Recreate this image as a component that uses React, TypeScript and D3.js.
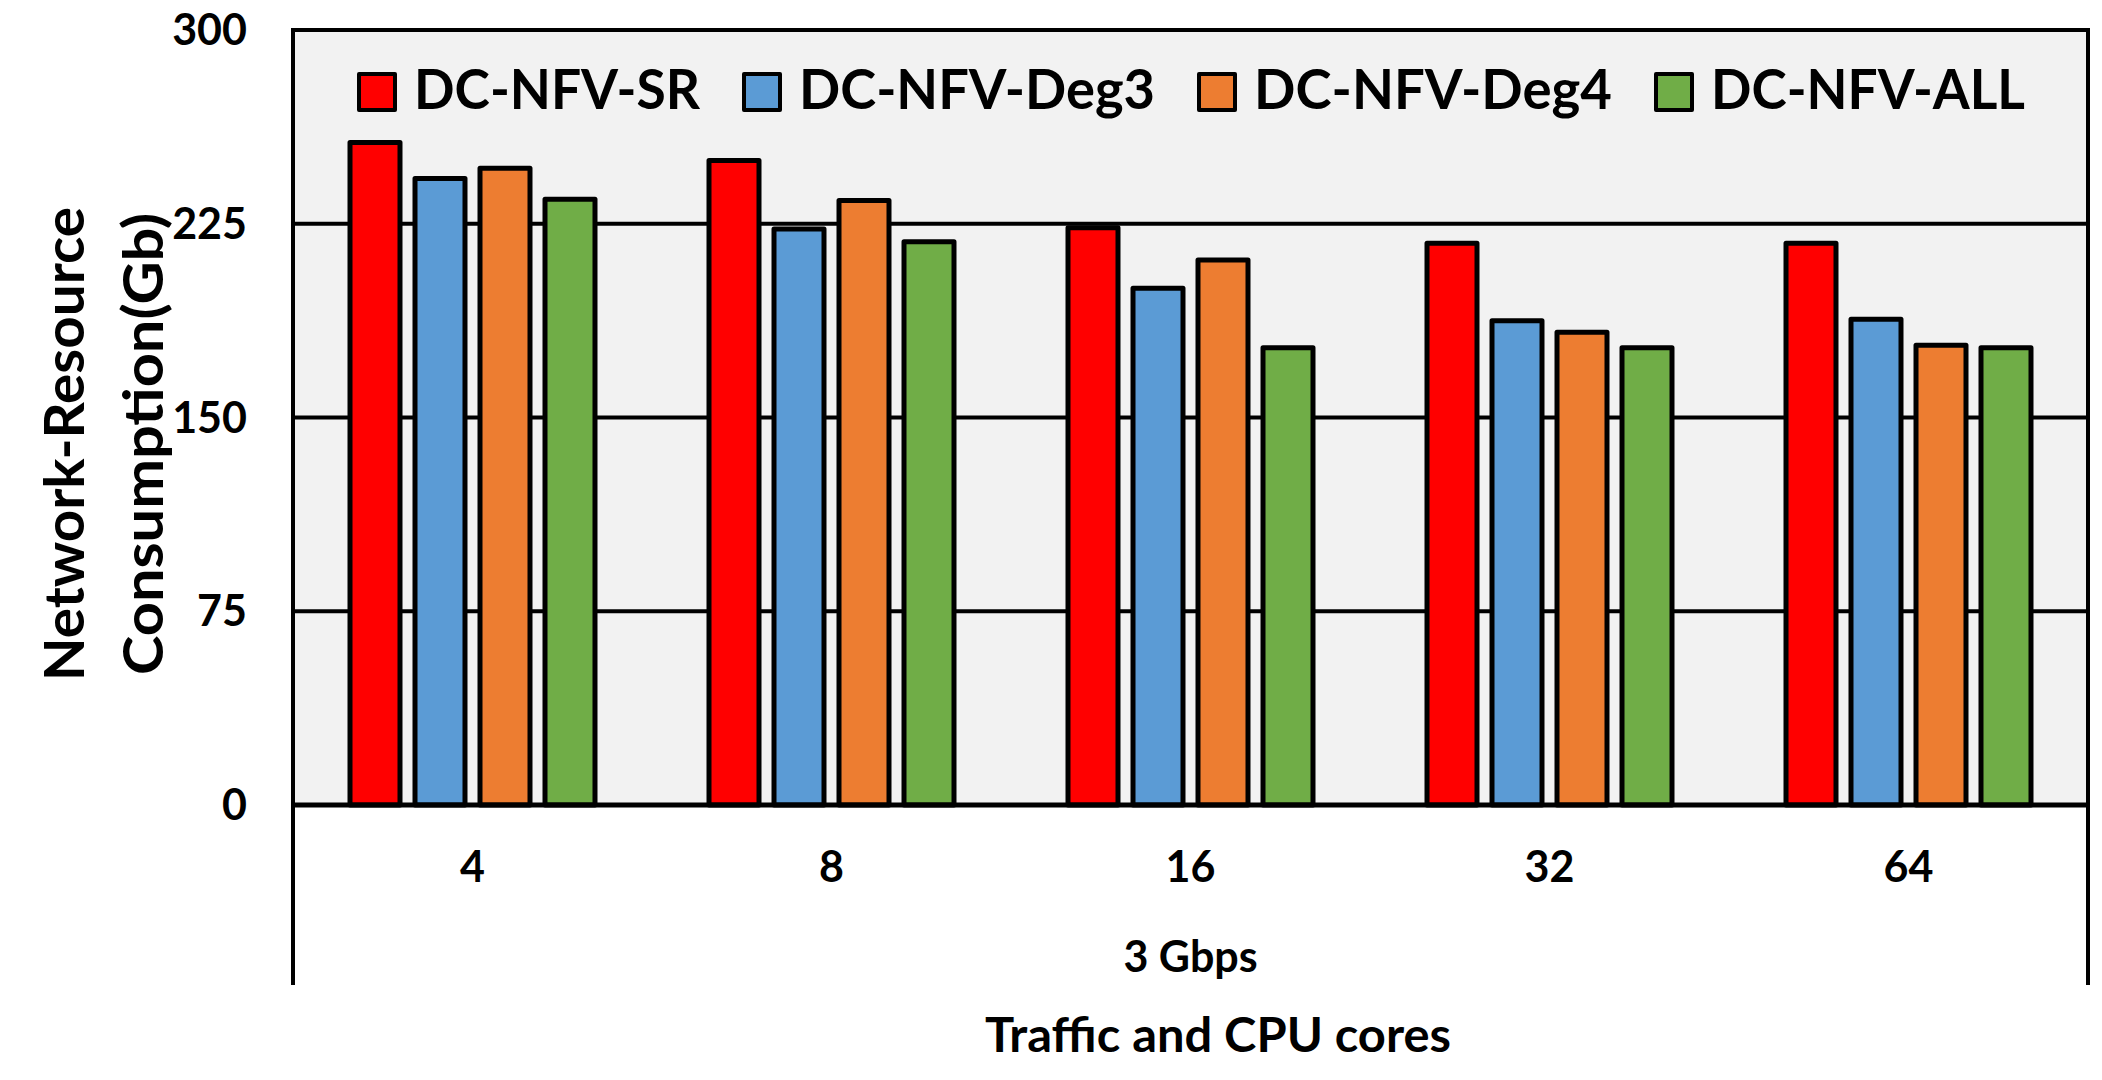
import * as d3 from "d3";

// chart data
const categories = ["4", "8", "16", "32", "64"];
const seriesNames = ["DC-NFV-SR", "DC-NFV-Deg3", "DC-NFV-Deg4", "DC-NFV-ALL"];
const seriesColors = ["#FF0000", "#5B9BD5", "#ED7D31", "#70AD47"];
const srValues = [256.5, 249.5, 223.5, 217.5, 217.5];
const deg3Values = [242.5, 223, 200, 187.5, 188];
const deg4Values = [246.5, 234, 211, 183, 178];
const allValues = [234.5, 218, 177, 177, 177];
const yTicks = [0, 75, 150, 225, 300];
const groupLabel = "3 Gbps";
const xTitle = "Traffic and CPU cores";
const yTitleLines = ["Network-Resource", "Consumption(Gb)"];

const seriesValues = [srValues, deg3Values, deg4Values, allValues];

const W = 2102;
const H = 1080;
const margin = { top: 30, right: 14, bottom: 275, left: 293 };
const font = "Lato, 'Open Sans', sans-serif";

const App = () => {
  const x0 = d3
    .scaleBand<string>()
    .domain(categories)
    .range([margin.left, W - margin.right])
    .paddingInner(0)
    .paddingOuter(0);

  // bars of a group: step 65, width 50
  const groupSpan = 260;
  const x1 = d3
    .scaleBand<number>()
    .domain(d3.range(seriesNames.length))
    .range([0, groupSpan])
    .paddingInner(15 / 65)
    .paddingOuter(7.5 / 65);

  const y = d3
    .scaleLinear()
    .domain([0, 300])
    .range([H - margin.bottom, margin.top]);

  const plotL = margin.left;
  const plotR = W - margin.right;
  const plotT = y(300);
  const plotB = y(0);
  const axisDepth = 180;

  // legend layout (widths of the legend texts)
  const legendTextW = [286, 356, 358, 314];
  const legendStart = 357;
  const legendGap = 42;
  const legendX: number[] = [];
  let cx = legendStart;
  legendTextW.forEach((w) => {
    legendX.push(cx);
    cx += 57 + w + legendGap;
  });
  const yTitleW = [474, 462];

  return (
    <svg
      width={W}
      height={H}
      style={{ position: "absolute", left: 0, top: 0, background: "#fff" }}
      fontFamily={font}
      fontWeight="bold"
    >
      {/* plot background */}
      <rect x={plotL} y={plotT} width={plotR - plotL} height={plotB - plotT} fill="#F2F2F2" />

      {/* gridlines */}
      {yTicks
        .filter((t) => t > 0 && t < 300)
        .map((t) => (
          <line key={t} x1={plotL} x2={plotR} y1={y(t)} y2={y(t)} stroke="#000" strokeWidth={4} />
        ))}

      {/* bars */}
      {categories.map((c, ci) => {
        const gx = (x0(c) as number) + x0.bandwidth() / 2 - groupSpan / 2;
        return (
          <g key={c}>
            {seriesValues.map((vals, si) => (
              <rect
                key={si}
                x={gx + (x1(si) as number)}
                y={y(vals[ci])}
                width={x1.bandwidth()}
                height={plotB - y(vals[ci])}
                fill={seriesColors[si]}
                stroke="#000"
                strokeWidth={5}
                strokeLinejoin="round"
              />
            ))}
          </g>
        );
      })}

      {/* plot frame */}
      <line x1={plotL} x2={plotR} y1={plotT} y2={plotT} stroke="#000" strokeWidth={4} />
      <line x1={plotL} x2={plotL} y1={plotT - 2} y2={plotB + axisDepth} stroke="#000" strokeWidth={4} />
      <line x1={plotR} x2={plotR} y1={plotT - 2} y2={plotB + axisDepth} stroke="#000" strokeWidth={4} />
      <line x1={plotL} x2={plotR} y1={plotB} y2={plotB} stroke="#000" strokeWidth={5} />

      {/* y tick labels */}
      {yTicks.map((t) => (
        <text key={t} x={247} y={y(t) + 15} textAnchor="end" fontSize={43} fill="#000">
          {t}
        </text>
      ))}

      {/* category labels */}
      {categories.map((c) => (
        <text
          key={c}
          x={(x0(c) as number) + x0.bandwidth() / 2}
          y={plotB + 77}
          textAnchor="middle"
          fontSize={43}
          fill="#000"
        >
          {c}
        </text>
      ))}
      <text x={(plotL + plotR) / 2} y={plotB + 167} textAnchor="middle" fontSize={43} fill="#000">
        {groupLabel}
      </text>

      {/* x title */}
      <text
        x={1218}
        y={1052}
        textAnchor="middle"
        fontSize={47}
        fill="#000"
        textLength={466}
        lengthAdjust="spacingAndGlyphs"
      >
        {xTitle}
      </text>

      {/* y title */}
      {yTitleLines.map((line, i) => (
        <text
          key={line}
          transform={`translate(${84 + i * 79},444) rotate(-90)`}
          textAnchor="middle"
          fontSize={55}
          fill="#000"
          textLength={yTitleW[i]}
          lengthAdjust="spacingAndGlyphs"
        >
          {line}
        </text>
      ))}

      {/* legend */}
      {seriesNames.map((name, i) => (
        <g key={name} transform={`translate(${legendX[i]},72)`}>
          <rect x={2} y={2} width={36} height={36} fill={seriesColors[i]} stroke="#000" strokeWidth={4} strokeLinejoin="round" />
          <text
            x={57}
            y={37}
            fontSize={55}
            fill="#000"
            textLength={legendTextW[i]}
            lengthAdjust="spacingAndGlyphs"
          >
            {name}
          </text>
        </g>
      ))}
    </svg>
  );
};

export default App;
